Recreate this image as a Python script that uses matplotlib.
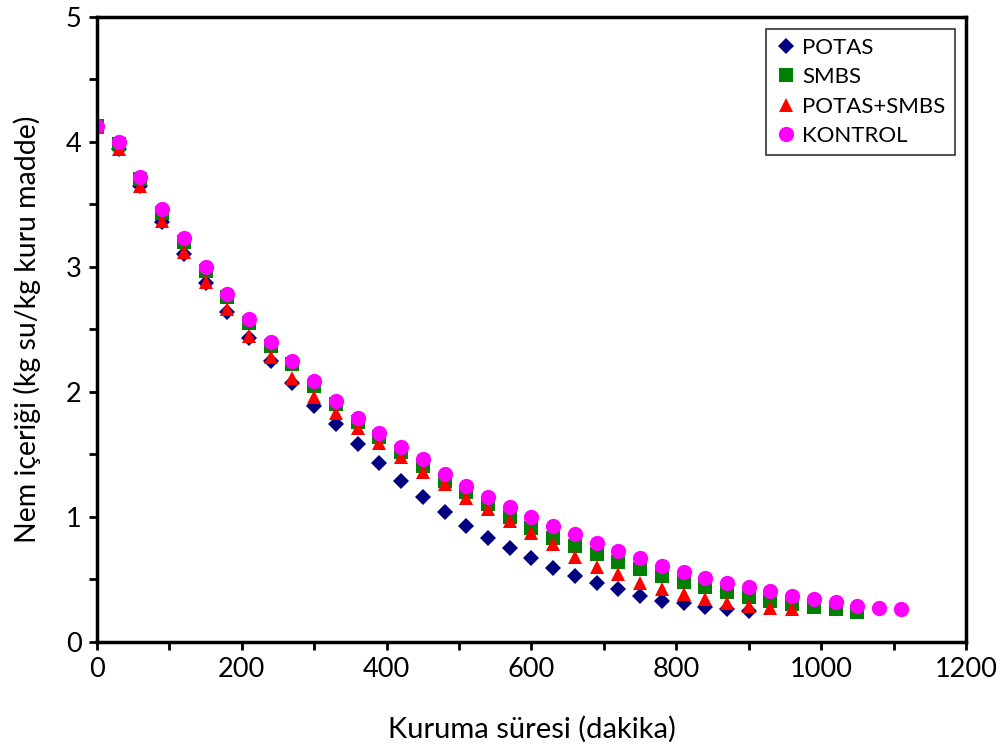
import numpy as np
import matplotlib
matplotlib.use("Agg")
import matplotlib.pyplot as plt
from matplotlib.ticker import MultipleLocator

plt.rcParams["font.family"] = ["Lato", "DejaVu Sans"]

# drying time (min), 30 min steps
time_all = np.arange(0, 1111, 30)

potas = [4.13, 3.94, 3.65, 3.36, 3.10, 2.87, 2.64, 2.43, 2.25, 2.07, 1.89,
         1.74, 1.58, 1.43, 1.29, 1.16, 1.04, 0.93, 0.83, 0.75, 0.67, 0.59,
         0.53, 0.47, 0.42, 0.37, 0.33, 0.31, 0.28, 0.26, 0.25]
smbs = [4.13, 3.98, 3.70, 3.43, 3.20, 2.97, 2.76, 2.55, 2.37, 2.22, 2.05,
        1.90, 1.76, 1.64, 1.52, 1.41, 1.29, 1.20, 1.10, 1.00, 0.91, 0.83,
        0.77, 0.70, 0.64, 0.58, 0.53, 0.48, 0.44, 0.40, 0.36, 0.33, 0.30,
        0.28, 0.26, 0.24]
potas_smbs = [4.12, 3.94, 3.65, 3.37, 3.12, 2.88, 2.66, 2.45, 2.28, 2.11,
              1.96, 1.83, 1.71, 1.59, 1.48, 1.36, 1.26, 1.15, 1.06, 0.97,
              0.87, 0.78, 0.68, 0.60, 0.54, 0.47, 0.42, 0.38, 0.34, 0.31,
              0.29, 0.27, 0.26]
kontrol = [4.13, 4.00, 3.72, 3.46, 3.23, 3.00, 2.78, 2.58, 2.40, 2.25, 2.09,
           1.93, 1.79, 1.67, 1.56, 1.46, 1.34, 1.25, 1.16, 1.08, 1.00, 0.93,
           0.86, 0.79, 0.73, 0.67, 0.61, 0.56, 0.51, 0.47, 0.44, 0.41, 0.37,
           0.34, 0.32, 0.29, 0.275, 0.26]

series = [
    ("POTAS", potas, "D", "#000080", 8.5),
    ("SMBS", smbs, "s", "#008000", 10),
    ("POTAS+SMBS", potas_smbs, "^", "#FF0000", 10.5),
    ("KONTROL", kontrol, "o", "#FF00FF", 11),
]

fig = plt.figure(figsize=(10.08, 7.49), dpi=100)
ax = fig.add_axes([0.0962, 0.1429, 0.8621, 0.8344])

for name, vals, mk, col, ms in series:
    ax.plot(time_all[:len(vals)], vals, linestyle="none", marker=mk,
            color=col, markersize=ms, markeredgewidth=0, label=name)

ax.set_xlim(0, 1200)
ax.set_ylim(0, 5)
ax.xaxis.set_major_locator(MultipleLocator(200))
ax.xaxis.set_minor_locator(MultipleLocator(100))
ax.yaxis.set_major_locator(MultipleLocator(1))
ax.yaxis.set_minor_locator(MultipleLocator(0.5))
ax.tick_params(which="both", direction="out", length=6, width=2, labelsize=19.5,
               pad=5)
for sp in ax.spines.values():
    sp.set_linewidth(2.5)

ax.set_xlabel("Kuruma süresi (dakika)", fontsize=21, labelpad=24)
ax.set_ylabel("Nem içeriği (kg su/kg kuru madde)", fontsize=20.5, labelpad=18)

leg = ax.legend(loc="upper right", bbox_to_anchor=(0.992, 0.988), fontsize=16,
                fancybox=False, edgecolor="black", handletextpad=0.25,
                handlelength=1.0, borderpad=0.4, labelspacing=0.42,
                borderaxespad=0.2)
leg.get_frame().set_linewidth(1.2)

fig.savefig("out.png", dpi=100)
